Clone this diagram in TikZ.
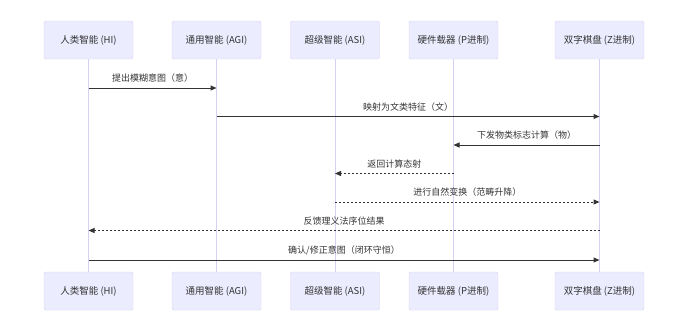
\documentclass[tikz,border=0pt]{standalone}
\usepackage{fontspec}
\setmainfont{Noto Sans CJK SC}
\usepackage{xcolor}
\usetikzlibrary{arrows.meta,positioning}
\definecolor{actorfill}{HTML}{ECECFF}
\definecolor{actorline}{HTML}{D8CFF3}
\definecolor{msgline}{HTML}{333333}
\begin{document}
\begin{tikzpicture}[x=1pt,y=-1pt,font=\fontsize{9}{11}\selectfont,text=msgline,actor/.style={draw=actorline,fill=actorfill,rounded corners=2pt,minimum width=89pt,minimum height=38pt,align=center,font=\fontsize{9.5}{11}\selectfont},life/.style={draw=actorline,line width=0.9pt},msg/.style={draw=msgline,line width=1pt,-{Triangle[length=6pt,width=5pt]}},reply/.style={msg,dash pattern=on 2pt off 2pt}]
    % Canvas with the reference margins
    \useasboundingbox (0,0) rectangle (689,333);
    % Participants, top and bottom row
    \node[actor] at (88.5,40) (hiT) {人类智能 (HI)};
    \node[actor] at (216.5,40) (agiT) {通用智能 (AGI)};
    \node[actor] at (335,40) (asiT) {超级智能 (ASI)};
    \node[actor] at (453.5,40) (pT) {硬件载器 (P进制)};
    \node[actor] at (599.5,40) (zT) {双字棋盘 (Z进制)};
    \node[actor] at (88.5,291) (hiB) {人类智能 (HI)};
    \node[actor] at (216.5,291) (agiB) {通用智能 (AGI)};
    \node[actor] at (335,291) (asiB) {超级智能 (ASI)};
    \node[actor] at (453.5,291) (pB) {硬件载器 (P进制)};
    \node[actor] at (599.5,291) (zB) {双字棋盘 (Z进制)};
    
    % Lifelines
    \draw[life] (hiT) -- (hiB);
    \draw[life] (agiT) -- (agiB);
    \draw[life] (asiT) -- (asiB);
    \draw[life] (pT) -- (pB);
    \draw[life] (zT) -- (zB);
    
    % Message levels
    \coordinate (m1) at (0,88);
    \coordinate (m2) at (0,116.5);
    \coordinate (m3) at (0,145);
    \coordinate (m4) at (0,173.5);
    \coordinate (m5) at (0,202);
    \coordinate (m6) at (0,230.5);
    \coordinate (m7) at (0,260);
    
    \draw[msg] (hiT |- m1) -- node[above=1.5pt]{提出模糊意图（意）} (agiT |- m1);
    \draw[msg] (agiT |- m2) -- node[above=1.5pt]{映射为文类特征（文）} (zT |- m2);
    \draw[msg] (zT |- m3) -- node[above=1.5pt]{下发物类标志计算（物）} (pT |- m3);
    \draw[reply] (pT |- m4) -- node[above=1.5pt]{返回计算态射} (asiT |- m4);
    \draw[reply] (asiT |- m5) -- node[above=1.5pt]{进行自然变换（范畴升降）} (zT |- m5);
    \draw[reply] (zT |- m6) -- node[above=1.5pt]{反馈理义法序位结果} (hiT |- m6);
    \draw[msg] (hiT |- m7) -- node[above=1.5pt]{确认/修正意图（闭环守恒）} (zT |- m7);
\end{tikzpicture}
\end{document}
